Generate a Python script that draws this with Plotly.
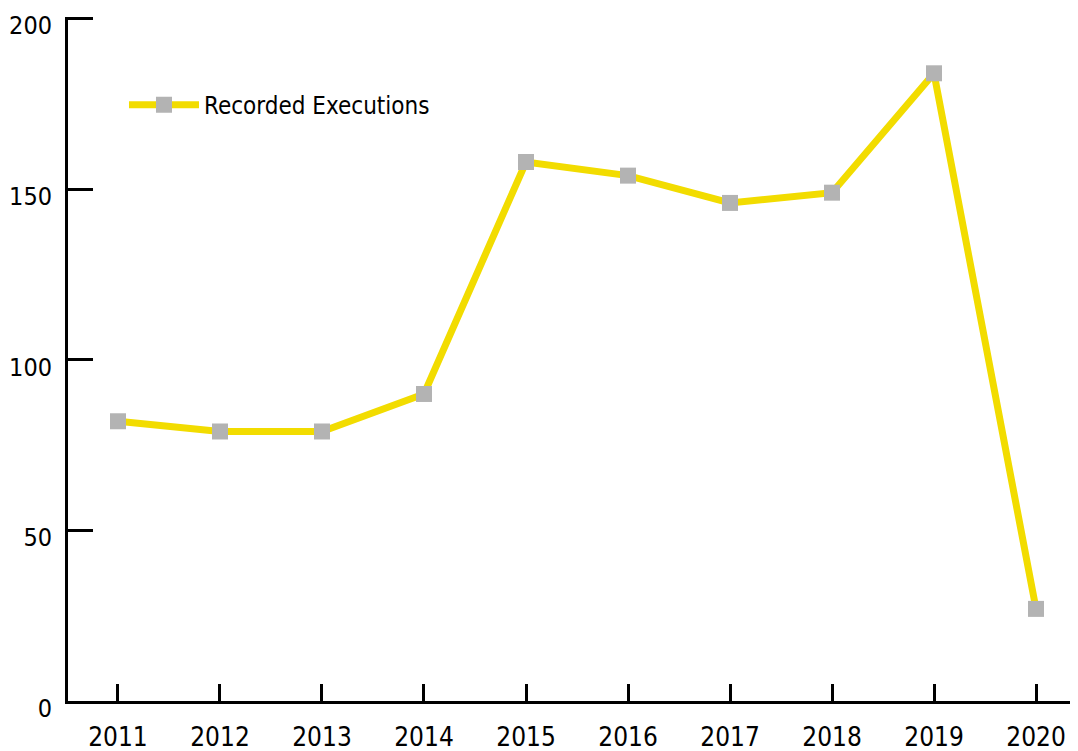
import plotly.graph_objects as go

years = ["2011", "2012", "2013", "2014", "2015", "2016", "2017", "2018", "2019", "2020"]
executions = [82, 79, 79, 90, 158, 154, 146, 149, 184, 27]
y_ticks = [0, 50, 100, 150, 200]

FONT = "DejaVu Sans Condensed, DejaVu Sans"
font = dict(family=FONT, size=26, color="black")

fig = go.Figure()
fig.add_trace(go.Scatter(
    x=years, y=executions, mode="lines+markers", name="Recorded Executions",
    line=dict(color="#f2dc00", width=7),
    marker=dict(symbol="square", size=16, color="#b3b3b3"),
    cliponaxis=False,
))

fig.update_layout(
    width=1078, height=751,
    margin=dict(l=60, r=0, t=9, b=58, autoexpand=False),
    paper_bgcolor="white", plot_bgcolor="white",
    font=font,
    showlegend=True,
    legend=dict(x=0.055, y=0.871, xanchor="left", yanchor="middle",
                bgcolor="rgba(0,0,0,0)", itemwidth=70,
                font=dict(family=FONT, size=24, color="black")),
    xaxis=dict(type="category", range=[-0.49, 9.49], automargin=False,
               showline=True, linecolor="black", linewidth=3,
               ticks="inside", ticklen=17, tickwidth=3, tickcolor="black",
               showgrid=False, zeroline=False, ticklabelstandoff=11),
    yaxis=dict(range=[0, 200.5], tickvals=y_ticks, automargin=False,
               showline=True, linecolor="black", linewidth=3,
               ticks="inside", ticklen=25, tickwidth=3, tickcolor="black",
               tickfont=dict(family=FONT, size=25, color="black"),
               showgrid=False, zeroline=False, ticklabelstandoff=8,
               ticklabelshift=7, ticklabeloverflow="allow"),
)

fig.write_html("out.html")
